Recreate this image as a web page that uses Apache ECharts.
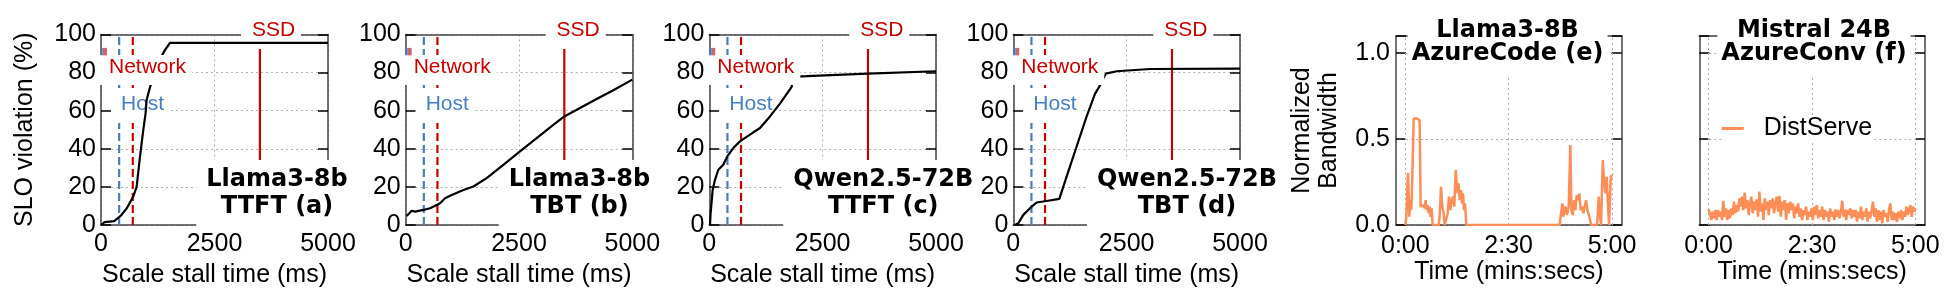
<!DOCTYPE html>
<html><head><meta charset="utf-8">
<script src="https://cdn.jsdelivr.net/npm/echarts@6/dist/echarts.min.js"></script>
<style>html,body{margin:0;padding:0;background:#fff}#c{width:1957px;height:304px}</style>
</head><body><div id="c"></div>
<script>
// ---------------- data ----------------
const stallTicks = [0, 2500, 5000];
const sloTicks = [0, 20, 40, 60, 80, 100];
const timeTicks = [0, 150, 300];
const bwTicks = [0, 0.5, 1.0];
const stallTitles = ['Llama3-8b\nTTFT (a)', 'Llama3-8b\nTBT (b)', 'Qwen2.5-72B\nTTFT (c)', 'Qwen2.5-72B\nTBT (d)'];
const bwTitles = ['Llama3-8B\nAzureCode (e)', 'Mistral 24B\nAzureConv (f)'];
const markerNames = ['Network', 'Host', 'SSD'];
const hostStall = 400, networkStall = 700, ssdStall = 3500;
const keyMarker = [[0, 91]];

const llamaTTFT = [[0,0],[80,1.5],[290,2],[440,5],[565,8.7],[711,15],[785,20],[858,35.8],[931,49.8],[982,58.6],[1005,65.6],[1078,72.2],[1250,85],[1408,91.8],[1518,95.6],[5000,95.6]];
const llamaTBT = [[22,4.7],[132,7.5],[206,7],[390,7.9],[537,8.8],[684,10.5],[757,11.4],[868,14],[978,15.3],[1272,18.4],[1493,20.2],[1787,24.6],[2154,31.6],[2522,38.6],[2890,45.6],[3257,52.6],[3500,57],[3846,61.4],[4213,66.1],[4581,70.7],[5000,76.3]];
const qwenTTFT = [[15,0],[29,6.1],[74,18.4],[125,23.7],[199,29],[309,31.6],[397,36],[529,40.4],[676,43.9],[897,47.4],[1118,50.9],[1338,57],[1559,63.7],[1816,72.5],[1850,77.8],[2147,78.1],[3500,79.5],[5000,80.7]];
const qwenTBT = [[37,0],[110,0.9],[221,5.3],[404,9.6],[515,11.8],[735,12.6],[1015,13.7],[1176,25.4],[1397,41.2],[1618,57],[1801,68.8],[1912,73.2],[2040,79.5],[2279,80.7],[3015,81.9],[5000,82.1]];

const azureCodeBW = [[0,0],[1.5,0.048],[3.9,0.302],[5.8,0.048],[7.3,0.145],[8.7,0.087],[10.2,0.281],[12.1,0.62],[14.5,0.63],[16.9,0.62],[19.4,0.626],[20.8,0.61],[22.3,0.107],[24.2,0.097],[26.6,0.116],[28.1,0.097],[29.5,0.145],[31.0,0.087],[32.4,0.116],[33.9,0.068],[35.3,0.107],[36.8,0.048],[38.2,0.097],[39.7,0],[48.4,0],[49.8,0.048],[51.8,0.223],[53.7,0.107],[55.6,0.068],[57.1,0],[59.5,0],[61.5,0.068],[63.4,0.165],[65.3,0.087],[67.3,0.145],[69.2,0.165],[71.1,0.107],[73.1,0.32],[74.5,0.242],[76.0,0.184],[77.4,0.242],[78.9,0.145],[80.8,0.203],[82.3,0.126],[83.7,0.184],[85.2,0.087],[86.6,0.126],[88.6,0],[224.0,0],[226.0,0.068],[227.9,0.126],[229.4,0.048],[230.8,0.087],[232.3,0.107],[234.7,0.058],[237.1,0.107],[239.5,0.465],[241.0,0.087],[242.9,0.058],[244.9,0.145],[246.8,0.087],[248.7,0.174],[250.7,0.145],[252.6,0.184],[254.5,0.087],[256.5,0.107],[258.4,0.068],[260.3,0.107],[262.3,0.145],[264.2,0.087],[266.2,0.058],[268.1,0.068],[270.0,0],[278.3,0],[280.7,0.165],[282.1,0.068],[284.1,0],[286.5,0.378],[288.4,0.262],[290.3,0.184],[292.3,0.281],[293.7,0.145],[295.7,0],[298.1,0.281],[300.0,0.291]];

const azureConvBW = [[0,0.091],[1.9,0.068],[3.9,0.029],[5.8,0.078],[7.8,0.039],[9.7,0.087],[11.6,0.029],[13.6,0.087],[15.5,0.048],[17.5,0.078],[19.4,0.029],[21.3,0.141],[23.3,0.048],[25.2,0.097],[27.1,0.029],[29.1,0.087],[31.0,0.039],[33.0,0.097],[34.9,0.058],[36.8,0.136],[38.8,0.068],[40.7,0.116],[42.7,0.078],[44.6,0.155],[46.5,0.107],[48.5,0.165],[50.4,0.087],[52.4,0.188],[54.3,0.097],[56.2,0.145],[58.2,0.058],[60.1,0.126],[62.0,0.165],[64.0,0.068],[65.9,0.136],[67.9,0.087],[69.8,0.149],[71.7,0.048],[73.7,0.194],[75.6,0.078],[77.6,0.126],[79.5,0.029],[81.4,0.155],[83.4,0.087],[85.3,0.136],[87.3,0.058],[89.2,0.145],[91.1,0.097],[93.1,0.155],[95.0,0.068],[97.0,0.126],[98.9,0.165],[100.8,0.078],[102.8,0.169],[104.7,0.048],[106.6,0.136],[108.6,0.087],[110.5,0.145],[112.5,0.029],[114.4,0.126],[116.3,0.068],[118.3,0.136],[120.2,0.087],[122.2,0.126],[124.1,0.039],[126.0,0.107],[128.0,0.068],[129.9,0.126],[131.9,0.048],[133.8,0.097],[135.7,0.029],[137.7,0.087],[139.6,0.058],[141.5,0.107],[143.5,0.029],[145.4,0.078],[147.4,0.048],[149.3,0.097],[151.2,0.029],[153.2,0.107],[155.1,0.058],[157.1,0.116],[159.0,0.039],[160.9,0.087],[162.9,0.048],[164.8,0.107],[166.8,0.029],[168.7,0.087],[170.6,0.048],[172.6,0.078],[174.5,0.019],[176.4,0.097],[178.4,0.048],[180.3,0.078],[182.3,0.029],[184.2,0.091],[186.1,0.048],[188.1,0.087],[190.0,0.039],[192.0,0.078],[193.9,0.141],[195.8,0.048],[197.8,0.091],[199.7,0.029],[201.7,0.087],[203.6,0.058],[205.5,0.097],[207.5,0.039],[209.4,0.087],[211.4,0.048],[213.3,0.087],[215.2,0.019],[217.2,0.078],[219.1,0.039],[221.0,0.107],[223.0,0.029],[224.9,0.078],[226.9,0.048],[228.8,0.097],[230.7,0.019],[232.7,0.078],[234.6,0.039],[236.6,0.087],[238.5,0.136],[240.4,0.048],[242.4,0.097],[244.3,0.019],[246.3,0.087],[248.2,0.029],[250.1,0.078],[252.1,0.010],[254.0,0.087],[256.0,0.048],[257.9,0.068],[259.8,0.019],[261.8,0.087],[263.7,0.126],[265.6,0.029],[267.6,0.078],[269.5,0.029],[271.5,0.068],[273.4,0.019],[275.3,0.078],[277.3,0.039],[279.2,0.087],[281.2,0.029],[283.1,0.078],[285.0,0.048],[287.0,0.107],[288.9,0.058],[290.8,0.087],[292.8,0.116],[294.7,0.048],[296.7,0.107],[298.6,0.078],[300.0,0.097]];

// ---------------- styling / layout ----------------
const RED = '#c80000', BLUE = '#4a7dbf', ORANGE = '#fd8e57', AX = '#444', GRIDC = '#b0b0b0';
const FONT = '"Liberation Sans", Arial, sans-serif';
const BOLD = '"DejaVu Sans", sans-serif';
const stallCurves = [llamaTTFT, llamaTBT, qwenTTFT, qwenTBT];
const stallLayout = [
  {L:101, W:227, tcx:277, padR:10},
  {L:405.7, W:226.6, tcx:579.5, padR:10},
  {L:709.3, W:226.7, tcx:883.3, padR:1},
  {L:1013.3, W:226.7, tcx:1187, padR:10}
];
const T0 = 34.5, H0 = 190.5;
const bwCurves = [azureCodeBW, azureConvBW];
const bwLayout = [{L:1396, W:225.7, tcx:1507.6}, {L:1699.3, W:225.7, tcx:1814}];
const T1 = 36, H1 = 189;

const axisLineS = {show:true, onZero:false, lineStyle:{color:AX, width:1.5}};
const splitS = {show:true, lineStyle:{color:GRIDC, type:[2,3], width:1}};
const tickS = {show:true, inside:true, length:10, lineStyle:{color:'#000', width:1.5}};
const lblS = {fontSize:25, color:'#000', fontFamily:FONT};
const plain = v => String(v);
const mmss = v => Math.floor(v/60) + ':' + String(Math.round(v%60)).padStart(2,'0');
const markText = c => ({fontSize:21, lineHeight:21, fontFamily:FONT, fontWeight:'normal', color:c});

const grid = [], xAxis = [], yAxis = [], series = [], title = [];

stallLayout.forEach((p, g) => {
  grid.push({left:p.L, top:T0, width:p.W, height:H0, containLabel:false, outerBoundsMode:'none'});
  xAxis.push({type:'value', gridIndex:g, position:'bottom', min:0, max:5000, interval:2500,
    axisLine:axisLineS, axisTick:{show:false},
    axisLabel:Object.assign({customValues:stallTicks, formatter:plain, margin:7}, lblS),
    splitLine:splitS, name:'Scale stall time (ms)', nameLocation:'middle', nameGap:37.5,
    nameMoveOverlap:false, nameTextStyle:lblS});
  xAxis.push({type:'value', gridIndex:g, position:'top', min:0, max:5000,
    axisLine:axisLineS, axisTick:{show:false}, axisLabel:{show:false}, splitLine:{show:false}});
  yAxis.push(Object.assign({type:'value', gridIndex:g, position:'left', min:0, max:100, interval:20,
    axisLine:axisLineS, axisTick:tickS,
    axisLabel:Object.assign({customValues:sloTicks, formatter:plain, margin:5}, lblS), splitLine:splitS},
    g === 0 ? {name:'SLO violation (%)', nameLocation:'middle', nameGap:63, nameMoveOverlap:false, nameTextStyle:lblS} : {}));
  yAxis.push({type:'value', gridIndex:g, position:'right', min:0, max:100, interval:20,
    axisLine:axisLineS, axisTick:tickS, axisLabel:{show:false}, splitLine:{show:false}});
  const xi = 2*g, yi = 2*g;
  const vline = (x, color, type, z) => ({type:'line', xAxisIndex:xi, yAxisIndex:yi, data:[[x,0],[x,100]],
    symbol:'none', silent:true, z:z, lineStyle:{color:color, width:2.2, type:type}});
  series.push(vline(hostStall, BLUE, [8,4], 1));
  series.push(vline(networkStall, RED, [8,4], 1));
  series.push(vline(ssdStall, RED, 'solid', 1));
  series.push({type:'line', xAxisIndex:xi, yAxisIndex:yi, data:stallCurves[g], symbol:'none', z:3,
    lineStyle:{color:'#000', width:2.2}});
  series.push({type:'scatter', xAxisIndex:xi, yAxisIndex:yi, data:keyMarker, symbol:'rect', symbolSize:[6,7.5], symbolOffset:[3,0], z:6, silent:true,
    itemStyle:{color:{type:'linear', x:0, y:0, x2:1, y2:0, colorStops:[{offset:0,color:BLUE},{offset:0.4,color:BLUE},{offset:0.4,color:'#c0404a'},{offset:1,color:'#c0404a'}]}}});
  title.push({text:stallTitles[g], left:p.tcx-10, top:160, textAlign:'center', padding:[6,p.padR,9,10], z:2.5,
    backgroundColor:'#fff', textStyle:{fontFamily:BOLD, fontWeight:'bold', fontSize:24, lineHeight:27, color:'#000'}});
  // marker label boxes
  const L = p.L;
  title.push({text:markerNames[0], left:L-3, top:55, padding:[1.7,6,7.3,11], z:5, backgroundColor:'#fff', textStyle:markText(RED)});
  title.push({text:markerNames[1], left:L+10, top:88, padding:[6,3.8,8,10], z:2, backgroundColor:'#fff', textStyle:markText(BLUE)});
  title.push({text:markerNames[2], left:L+140, top:14, padding:[5.5,5.9,8.5,10.9], z:2, backgroundColor:'#fff', textStyle:markText(RED)});
});

bwLayout.forEach((p, j) => {
  const g = 4 + j;
  grid.push({left:p.L, top:T1, width:p.W, height:H1, containLabel:false, outerBoundsMode:'none'});
  xAxis.push({type:'value', gridIndex:g, position:'bottom', min:-13.5, max:314,
    axisLine:axisLineS, axisTick:{show:false},
    axisLabel:Object.assign({customValues:timeTicks, formatter:mmss, margin:9}, lblS),
    splitLine:{show:false}, name:'Time (mins:secs)', nameLocation:'middle', nameGap:35,
    nameMoveOverlap:false, nameTextStyle:lblS});
  xAxis.push({type:'value', gridIndex:g, position:'top', min:-13.5, max:314,
    axisLine:axisLineS, axisTick:{show:false}, axisLabel:{show:false}, splitLine:{show:false}});
  yAxis.push(Object.assign({type:'value', gridIndex:g, position:'left', min:0, max:1.1, interval:0.5,
    axisLine:axisLineS, axisTick:tickS,
    axisLabel:Object.assign({show:j===0, customValues:bwTicks, formatter:v => v.toFixed(1), margin:6}, lblS),
    splitLine:splitS},
    j === 0 ? {name:'Normalized\nBandwidth', nameLocation:'middle', nameGap:54, nameMoveOverlap:false,
      nameTextStyle:Object.assign({lineHeight:26.5}, lblS)} : {}));
  yAxis.push({type:'value', gridIndex:g, position:'right', min:0, max:1.1, interval:0.5,
    axisLine:axisLineS, axisTick:tickS, axisLabel:{show:false}, splitLine:{show:false}});
  series.push({type:'line', name:'DistServe', xAxisIndex:2*g, yAxisIndex:2*g, data:bwCurves[j], symbol:'none', z:3,
    lineStyle:{color:ORANGE, width:2.5}, itemStyle:{color:ORANGE},
    markLine:{silent:true, symbol:'none', z:1, animation:false, label:{show:false},
      lineStyle:{color:GRIDC, type:[2,3], width:1}, emphasis:{disabled:true},
      data:timeTicks.map(v => ({xAxis:v}))}});
  title.push({text:bwTitles[j], left:p.tcx-4, top:15.5, textAlign:'center', padding:[4,4,12,4], z:2.5,
    backgroundColor:'#fff', textStyle:{fontFamily:BOLD, fontWeight:'bold', fontSize:24, lineHeight:23, color:'#000'}});
});

const chart = echarts.init(document.getElementById('c'));
chart.setOption({
  animation:false,
  backgroundColor:'#fff',
  textStyle:{fontFamily:FONT},
  grid, xAxis, yAxis, series, title,
  legend:{data:['DistServe'], left:1721.7, top:116, padding:0, backgroundColor:'#fff', selectedMode:false,
    icon:'path://M0,0L22,0L22,3L0,3Z M37,0L37,3', itemWidth:37, itemHeight:3, itemStyle:{borderWidth:0},
    textStyle:{fontSize:25, fontFamily:FONT, color:'#000', lineHeight:22}}
});
</script></body></html>
